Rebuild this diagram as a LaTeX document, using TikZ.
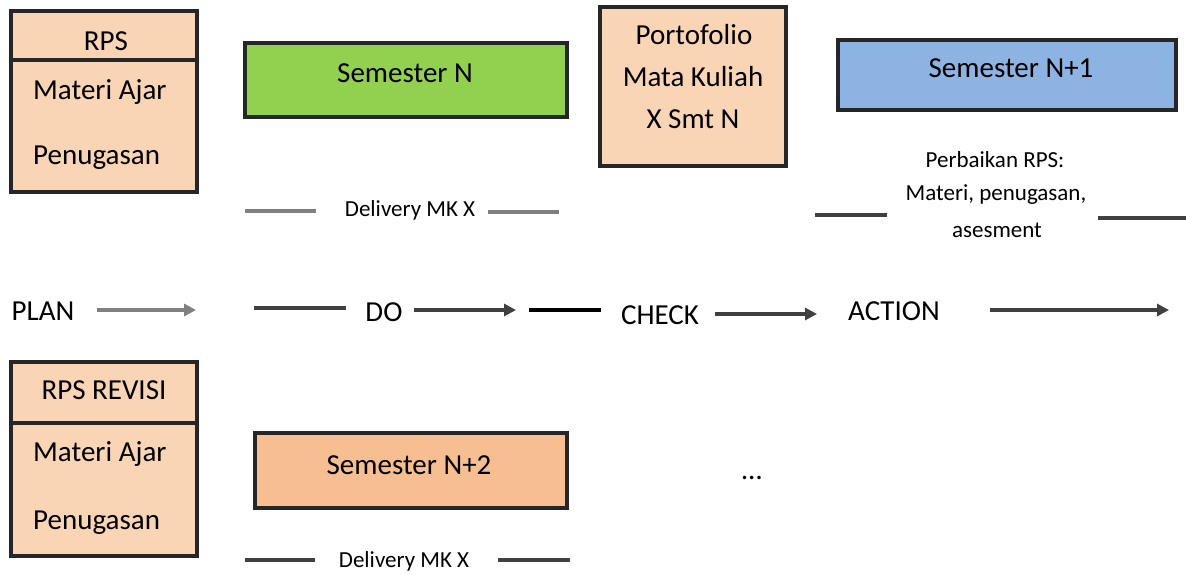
\documentclass[tikz,border=0pt]{standalone}
\usepackage{fontspec}
\setmainfont{Carlito}
\usetikzlibrary{arrows.meta}
\definecolor{peach}{HTML}{F9D4B5}
\definecolor{apricot}{HTML}{F7BE91}
\definecolor{leaf}{HTML}{92D050}
\definecolor{sky}{HTML}{8DB3E2}
\begin{document}
\begin{tikzpicture}[x=1pt,y=-1pt,
  box/.style={draw=black!85, line width=3.2pt, inner sep=0pt},
  txt/.style={font=\fontsize{29}{34}\selectfont, inner sep=0pt, text height=18.5pt, text depth=0pt},
  small/.style={font=\fontsize{23}{28}\selectfont, inner sep=0pt, text height=14.8pt, text depth=0pt},
  rule/.style={line width=3.4pt, draw=black!75},
  lightrule/.style={line width=3.4pt, draw=black!50},
  flow/.style={line width=3.2pt, draw=black!75, -{Triangle[length=12pt,width=12pt]}},
  lightflow/.style={flow, draw=black!50}]
\useasboundingbox (0,0) rectangle (1186,574);

% ---- top row: plan document, delivery, portfolio, revision
\node[box, fill=peach, minimum width=186pt, minimum height=181pt] (rps) at (104,101.5) {};
\draw[box] (rps.west |- 0,60) coordinate (rpsl) -- (rps.east |- 0,60) coordinate (rpsr);
\node[txt] (rpshead) at (106,41) {RPS};
\node[txt, anchor=west] (rpsmat) at (33,90) {Materi Ajar};
\node[txt, anchor=west] (rpstask) at (33,155) {Penugasan};

\node[box, fill=leaf, minimum width=322pt, minimum height=74pt] (semn) at (406,80) {};
\node[txt] (semnt) at (405,73) {Semester N};

\node[small] (deliv1) at (410,209) {Delivery MK X};
\coordinate (d1a) at (245,211);
\coordinate (d1b) at (559,212);
\draw[lightrule] (d1a) -- (d1a -| 316,0);
\draw[lightrule] (d1b -| 488,0) -- (d1b);

\node[box, fill=peach, minimum width=186pt, minimum height=159pt] (port) at (693,86.5) {};
\node[txt] (port1) at (694,35) {Portofolio};
\node[txt] (port2) at (693,77) {Mata Kuliah};
\node[txt] (port3) at (693,119) {X Smt N};

\node[box, fill=sky, minimum width=338pt, minimum height=70pt] (semn1) at (1007,75) {};
\node[txt] (semn1t) at (1011,68) {Semester N+1};

\node[small] (fix1) at (995,160) {Perbaikan RPS:};
\node[small] (fix2) at (996,193) {Materi, penugasan,};
\node[small] (fix3) at (997,230) {asesment};
\coordinate (f1a) at (815,215);
\coordinate (f1b) at (887,215);
\coordinate (f2a) at (1098,218);
\coordinate (f2b) at (1186,218);
\draw[rule] (f1a) -- (f1b);
\draw[rule] (f2a) -- (f2b);

% ---- PDCA row
\node[txt] (plan) at (43,311) {PLAN};
\node[txt] (do) at (384,312) {DO};
\node[txt] (check) at (660,315) {CHECK};
\node[txt] (action) at (894,311) {ACTION};
\coordinate (p1) at (97,310);
\coordinate (p2) at (196,310);
\coordinate (q1) at (254,308);
\coordinate (q2) at (346,308);
\coordinate (r1) at (414,310);
\coordinate (r2) at (516,310);
\coordinate (s1) at (529,310);
\coordinate (s2) at (601,310);
\coordinate (t1) at (715,314);
\coordinate (t2) at (817,314);
\coordinate (u1) at (990,310);
\coordinate (u2) at (1169,310);
\draw[lightflow] (p1) -- (p2);
\draw[rule] (q1) -- (q2);
\draw[flow] (r1) -- (r2);
\draw[line width=3.4pt, draw=black] (s1) -- (s2);
\draw[flow] (t1) -- (t2);
\draw[flow] (u1) -- (u2);

% ---- bottom row: revised plan and next delivery
\node[box, fill=peach, minimum width=186pt, minimum height=194pt] (rev) at (104,459) {};
\draw[box] (rev.west |- 0,423) coordinate (revl) -- (rev.east |- 0,423) coordinate (revr);
\node[txt] (revhead) at (104,390) {RPS REVISI};
\node[txt, anchor=west] (revmat) at (33,452) {Materi Ajar};
\node[txt, anchor=west] (revtask) at (33,520) {Penugasan};

\node[box, fill=apricot, minimum width=312pt, minimum height=75pt] (semn2) at (411,470.5) {};
\node[txt] (semn2t) at (409,465) {Semester N+2};

\node[txt] (dots) at (752,470) {\dots};

\node[small] (deliv2) at (404,560) {Delivery MK X};
\coordinate (d2a) at (245,560);
\coordinate (d2b) at (570,560);
\draw[rule] (d2a) -- (d2a -| 315,0);
\draw[rule] (d2b -| 498,0) -- (d2b);
\end{tikzpicture}
\end{document}
